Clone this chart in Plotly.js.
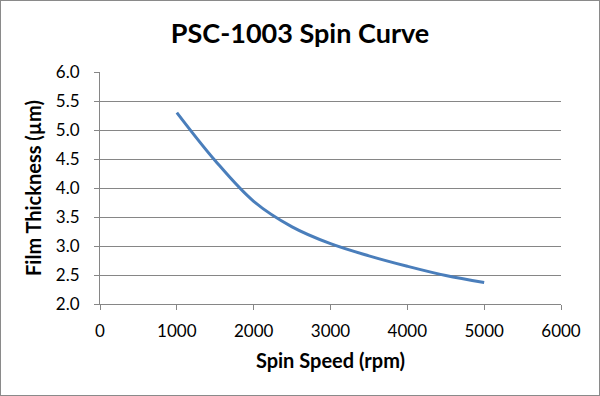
<!DOCTYPE html>
<html>
<head>
<meta charset="utf-8">
<script src="https://cdn.plot.ly/plotly-3.0.1.min.js"></script>
<style>
  html, body { margin: 0; padding: 0; background: #fff; }
  #chart { width: 600px; height: 396px; }
  #frame { position: absolute; left: 0; top: 0; width: 600px; height: 396px; box-sizing: border-box; border: 1px solid #8a8a8a; pointer-events: none; }
</style>
</head>
<body>
<div id="chart"></div>
<div id="frame"></div>
<script>
const chartTitle = "PSC-1003 Spin Curve";
const xTitle = "Spin Speed (rpm)";
const yTitle = "Film Thickness (µm)";
const spinSpeed = [1000, 1500, 2000, 2500, 3000, 3500, 4000, 4500, 5000];
const thickness = [5.30, 4.47, 3.77, 3.33, 3.04, 2.83, 2.65, 2.49, 2.37];
const xTicks = [0, 1000, 2000, 3000, 4000, 5000, 6000];
const yTicks = [2.0, 2.5, 3.0, 3.5, 4.0, 4.5, 5.0, 5.5, 6.0];

const fontFamily = "Lato, 'Open Sans', sans-serif";

Plotly.newPlot("chart", [{
  x: spinSpeed,
  y: thickness,
  type: "scatter",
  mode: "lines",
  line: { color: "#4a7ebb", width: 3, shape: "spline", smoothing: 1 },
  hoverinfo: "x+y"
}], {
  width: 600,
  height: 396,
  margin: { l: 99.5, r: 39, t: 72, b: 92, pad: 0 },
  paper_bgcolor: "#ffffff",
  plot_bgcolor: "#ffffff",
  showlegend: false,
  title: {
    text: "<b>" + chartTitle + "</b>",
    font: { family: fontFamily, size: 27, color: "#000" },
    x: 0.5, xanchor: "center",
    y: 1 - 34 / 396, yanchor: "middle"
  },
  xaxis: {
    range: [0, 6000],
    tickvals: xTicks,
    ticktext: xTicks.map(String),
    showgrid: false,
    zeroline: false,
    showline: true,
    linecolor: "#868686",
    linewidth: 1,
    ticks: "outside",
    ticklen: 5,
    tickcolor: "#868686",
    ticklabelstandoff: 7,
    tickfont: { family: fontFamily, size: 17, color: "#000" },
    title: { text: "<b>" + xTitle + "</b>", font: { family: fontFamily, size: 20, color: "#000" }, standoff: 13 },
    fixedrange: true
  },
  yaxis: {
    range: [2.0, 6.0],
    tickvals: yTicks,
    ticktext: yTicks.map(v => v.toFixed(1)),
    showgrid: true,
    gridcolor: "#868686",
    gridwidth: 1,
    zeroline: false,
    showline: true,
    linecolor: "#868686",
    linewidth: 1,
    ticks: "outside",
    ticklen: 5,
    tickcolor: "#868686",
    ticklabelstandoff: 11,
    tickfont: { family: fontFamily, size: 17, color: "#000" },
    title: { text: "<b>" + yTitle + "</b>", font: { family: fontFamily, size: 20, color: "#000" }, standoff: 8 },
    fixedrange: true
  }
}, { displayModeBar: false, staticPlot: false });
</script>
</body>
</html>
